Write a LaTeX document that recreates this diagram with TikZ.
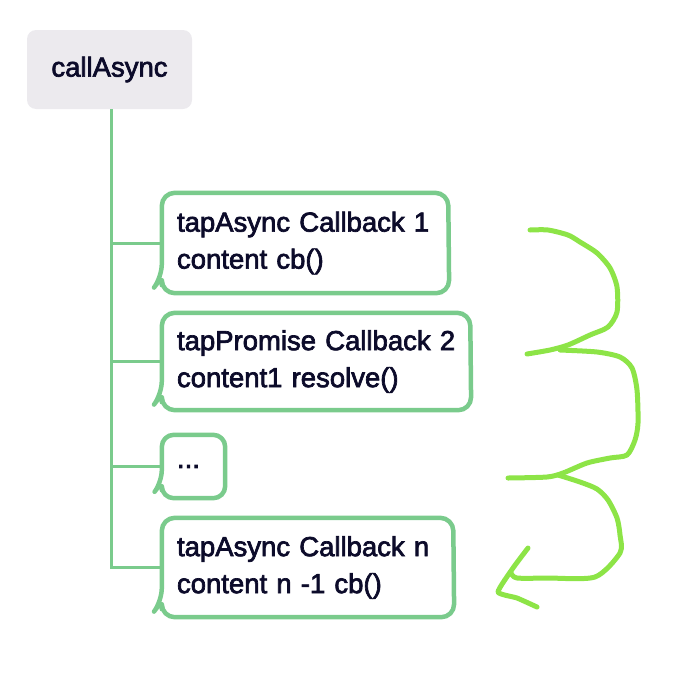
\documentclass[tikz,border=0pt]{standalone}
\usepackage{fontspec}
\newfontfamily\lbl{Liberation Sans}[FakeBold=2.5]
\usetikzlibrary{calc}
\definecolor{tgreen}{HTML}{7ACB8C}
\definecolor{sgreen}{HTML}{8DE447}
\definecolor{boxgrey}{HTML}{ECEAEE}
\definecolor{ink}{HTML}{0C0B2A}
\tikzset{
  rootbox/.style={rectangle, rounded corners=9pt, fill=boxgrey, draw=none,
    minimum width=165pt, minimum height=79pt, inner sep=0pt,
    font=\lbl\fontsize{27.5}{37}\selectfont, text=ink},
  cbbox/.style={rectangle, draw=none, inner xsep=15pt, inner ysep=0pt,
    align=left, font=\lbl\fontsize{27.5}{37}\selectfont, text=ink},
  trunk/.style={draw=tgreen, line width=3pt},
  sketch/.style={draw=tgreen, line width=4.5pt, line cap=round, line join=round},
  squiggle/.style={draw=sgreen, line width=5pt, line cap=round, line join=round}
}
\begin{document}
\begin{tikzpicture}[x=1pt,y=-1pt]
\useasboundingbox (0,0) rectangle (700,680);
\node[rootbox] (ca) at (109.5,69.5) {callAsync};
\node[cbbox, text width=256pt, minimum height=100pt] (b1) at (305,243) {\mbox{tapAsync Callback 1}\\\mbox{content cb()}};
\node[cbbox, text width=278pt, minimum height=97pt] (b2) at (316,361.5) {\mbox{tapPromise Callback 2}\\\mbox{content1 resolve()}};
\node[cbbox, text width=33pt, minimum height=63pt] (b3) at (193.5,466.5) {...};
\node[cbbox, text width=261pt, minimum height=99pt] (b4) at (307.5,567.5) {\mbox{tapAsync Callback n}\\\mbox{content n -1 cb()}};
% tree connectors
\coordinate (tk) at ([xshift=2pt]ca.south);
\draw[trunk] (tk) |- (b4.west);
\foreach \b in {b1,b2,b3}{\draw[trunk] (tk |- \b.west) -- (\b.west);}
% hand drawn outlines
\foreach \b in {b1,b2,b4}{
  \draw[sketch, rounded corners=13pt] ([shift={(-3,-12)}]\b.south west) -- ([shift={(0,-16)}]\b.south west) -- ([shift={(0,0)}]\b.north west) -- ([shift={(0,0)}]\b.north east) -- ([shift={(1,0)}]\b.south east) -- ([shift={(0,0)}]\b.south west) -- ([shift={(0,-8)}]\b.south west);
}
\draw[sketch, rounded corners=12pt] ([shift={(-3,-12)}]b3.south west) -- ([shift={(0,-16)}]b3.south west) -- (b3.north west) -- (b3.north east) -- (b3.south east) -- (b3.south west) -- ([shift={(0,-8)}]b3.south west);
% flow squiggle
\draw[squiggle] plot[smooth, tension=0.45] coordinates {(530,230) (548,230) (568,235) (580,242) (597,253) (610,268) (617,287) (617,312) (608,327) (590,335) (568,345) (550,350) (527,354)};
\draw[squiggle] plot[smooth, tension=0.45] coordinates {(560,350) (597,352) (620,357) (632,368) (637,390) (638,423) (635,440) (627,455) (610,458) (587,463) (563,473) (547,477) (508,478)};
\draw[squiggle] plot[smooth, tension=0.45] coordinates {(558,475) (580,482) (597,489) (608,500) (617,518) (620,535) (620,553) (595,577) (547,578) (517,578) (511,573)};
\draw[squiggle] plot[smooth, tension=0.3] coordinates {(528,548) (513,568) (498,592) (517,598) (537,607)};
\end{tikzpicture}
\end{document}
